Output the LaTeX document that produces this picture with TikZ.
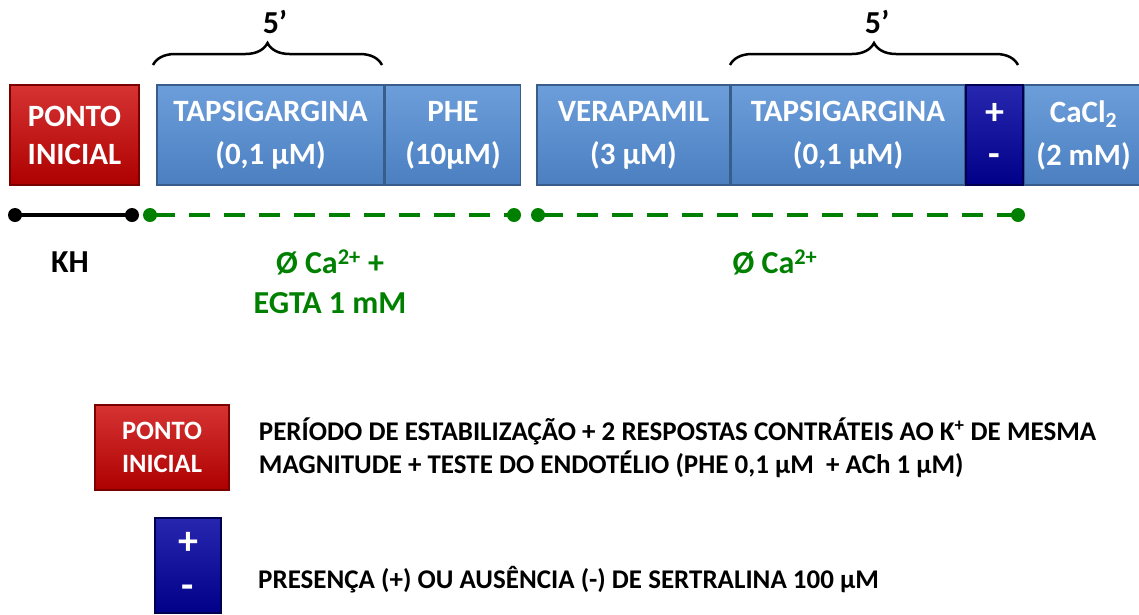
\documentclass[tikz,border=0pt]{standalone}
\usepackage{fontspec}
\setmainfont{Carlito}
\usetikzlibrary{positioning}
\usetikzlibrary{decorations.pathreplacing}

\definecolor{phaseblue}{RGB}{83,141,213}
\definecolor{phaseline}{RGB}{56,93,138}
\definecolor{startred}{RGB}{204,0,0}
\definecolor{sertblue}{RGB}{0,0,160}
\definecolor{cagreen}{RGB}{0,128,0}

\begin{document}
\begin{tikzpicture}
  [
    x=1pt,y=-1pt,
    phase/.style={
      draw=phaseline,line width=1.5pt,
      top color=phaseblue!85!white,bottom color=phaseblue!90!black,
      text=white,align=center,inner sep=0pt,minimum height=100pt,
      font=\fontsize{31}{43}\selectfont\bfseries
    },
    start/.style={phase,draw=startred!60!black,top color=startred!80!white,bottom color=startred!85!black,
      font=\fontsize{31}{38}\selectfont\bfseries},
    sert/.style={phase,draw=sertblue!50!black,top color=sertblue!85!white,bottom color=sertblue!85!black,
      font=\fontsize{38}{42}\selectfont\bfseries},
    dot/.style={circle,inner sep=0pt,minimum size=14pt},
    medium/.style={line width=4pt,shorten >=-3pt,shorten <=-3pt},
    bracket/.style={decorate,decoration={brace,amplitude=22pt},line width=2.5pt},
    tag/.style={font=\fontsize{32}{40}\selectfont\bfseries,align=center,inner sep=0pt},
    legend/.style={font=\fontsize{27}{33}\selectfont\bfseries,align=left,inner sep=0pt},
  ]
    \useasboundingbox (0,0) rectangle (1139,614);
    % protocol steps
    \node [start,minimum width=129pt] (start) at (74.5,135) {PONTO\\INICIAL};
    \node [phase,minimum width=227pt] (tapsA) at (270.5,135) {TAPSIGARGINA\\(0,1 µM)};
    \node [phase,minimum width=135pt,right=0pt of tapsA] (phe) {PHE\\(10µM)};
    \node [phase,minimum width=193pt] (vera) at (633.5,135) {VERAPAMIL\\(3 µM)};
    \node [phase,minimum width=233pt,right=0pt of vera] (tapsB) {TAPSIGARGINA\\(0,1 µM)};
    \node [sert,minimum width=57pt,right=0pt of tapsB] (sert) {+\\-};
    \node [phase,minimum width=118pt,right=0pt of sert] (cacl) {CaCl\textsubscript{2}\\(2 mM)};
    % 5 minutes
    \coordinate (braceA1) at (153,65);
    \coordinate (braceA2) at (382,65);
    \coordinate (braceB1) at (730,65);
    \coordinate (braceB2) at (1018,65);
    \draw [bracket] (braceA1) -- (braceA2);
    \draw [bracket] (braceB1) -- (braceB2);
    \node [tag] (timeA) at (275,22) {5’};
    \node [tag] (timeB) at (877,22) {5’};
    % solutions
    \node [dot,fill=black] (kh1) at (15,215) {};
    \node [dot,fill=black] (kh2) at (132,215) {};
    \node [dot,fill=cagreen] (egta1) at (150,215) {};
    \node [dot,fill=cagreen] (egta2) at (514,215) {};
    \node [dot,fill=cagreen] (free1) at (538,215) {};
    \node [dot,fill=cagreen] (free2) at (1018,215) {};
    \draw [medium] (kh1) -- (kh2);
    \draw [medium,cagreen,dash pattern=on 21pt off 14pt] (egta1) -- (egta2);
    \draw [medium,cagreen,dash pattern=on 21pt off 14pt] (free1) -- (free2);
    \node [tag] (kh) at (70,262) {KH};
    \node [tag,text=cagreen] (egta) at (330,282) {Ø Ca\textsuperscript{2+} +\\EGTA 1 mM};
    \node [tag,text=cagreen] (free) at (775,262) {Ø Ca\textsuperscript{2+}};
    % legend
    \node [start,minimum width=134pt,minimum height=85pt,font=\fontsize{26.5}{33}\selectfont\bfseries] (legstart) at (162,447.5) {PONTO\\INICIAL};
    \node [legend,right=29pt of legstart] (legstarttext) {PERÍODO DE ESTABILIZAÇÃO + 2 RESPOSTAS CONTRÁTEIS AO K\textsuperscript{+} DE MESMA\\MAGNITUDE + TESTE DO ENDOTÉLIO (PHE 0,1 µM~ + ACh 1 µM)};
    \node [sert,minimum width=66pt,minimum height=95pt,font=\fontsize{40}{44}\selectfont\bfseries] (legsert) at (188,565.5) {+\\-};
    \node [legend,anchor=west] (legserttext) at (258,580) {PRESENÇA (+) OU AUSÊNCIA (-) DE SERTRALINA 100 µM};
\end{tikzpicture}
\end{document}
